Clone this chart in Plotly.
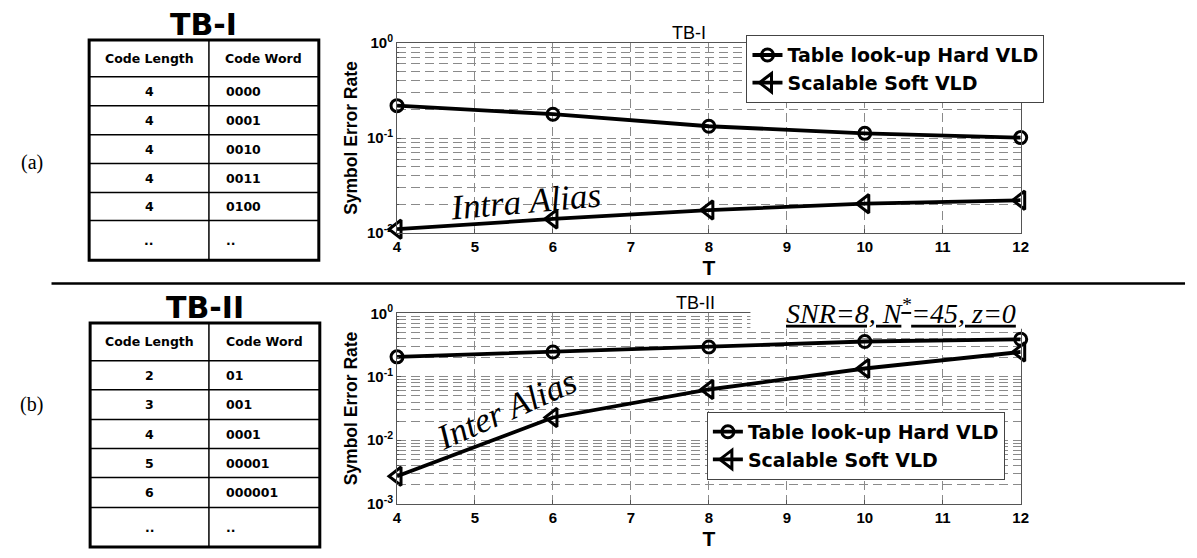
import plotly.graph_objects as go

W, H = 1197, 558

# ---------------- data ----------------
T_values = [4, 6, 8, 10, 12]
tb1_hard = [0.219, 0.178, 0.133, 0.112, 0.101]
tb1_soft = [0.0110, 0.0141, 0.0175, 0.0204, 0.0222]
tb2_hard = [0.206, 0.246, 0.295, 0.360, 0.390]
tb2_soft = [0.0027, 0.0228, 0.063, 0.135, 0.246]

series_names = ["Table look-up Hard VLD", "Scalable Soft VLD"]

table_header = ["Code Length", "Code Word"]
tb1_lengths = ["4", "4", "4", "4", "4", ".."]
tb1_words = ["0000", "0001", "0010", "0011", "0100", ".."]
tb2_lengths = ["2", "3", "4", "5", "6", ".."]
tb2_words = ["01", "001", "0001", "00001", "000001", ".."]

x_ticks = [4, 5, 6, 7, 8, 9, 10, 11, 12]
y1_ticks = [1e-2, 1e-1, 1e0]
y1_exps = ["-2", "-1", "0"]
y2_ticks = [1e-3, 1e-2, 1e-1, 1e0]
y2_exps = ["-3", "-2", "-1", "0"]


def px(x):
    return x / W


def py(y):
    return 1 - y / H


def pow_label(e):
    return "10<sup style='font-size:90%'>" + e + "</sup>"


SANS = "Liberation Sans, Arial, sans-serif"
SERIF = "Liberation Serif, Times New Roman, serif"
TBL = "DejaVu Sans, Verdana, sans-serif"

fig = go.Figure()

line_style = dict(color="black", width=3.8)
hard_marker = dict(symbol="circle-open", size=12, color="black", line=dict(width=3, color="black"))
soft_marker = dict(symbol="triangle-left-open", size=16, color="black", line=dict(width=3, color="black"))

fig.add_trace(go.Scatter(x=T_values, y=tb1_hard, mode="lines+markers", name=series_names[0],
                         line=line_style, marker=hard_marker, xaxis="x", yaxis="y",
                         legend="legend", cliponaxis=False))
fig.add_trace(go.Scatter(x=T_values, y=tb1_soft, mode="lines+markers", name=series_names[1],
                         line=line_style, marker=soft_marker, xaxis="x", yaxis="y",
                         legend="legend", cliponaxis=False))
fig.add_trace(go.Scatter(x=T_values, y=tb2_hard, mode="lines+markers", name=series_names[0],
                         line=line_style, marker=hard_marker, xaxis="x2", yaxis="y2",
                         legend="legend2", cliponaxis=False))
fig.add_trace(go.Scatter(x=T_values, y=tb2_soft, mode="lines+markers", name=series_names[1],
                         line=line_style, marker=soft_marker, xaxis="x2", yaxis="y2",
                         legend="legend2", cliponaxis=False))

grid_color = "#8a8a8a"
grid_dash = "9px,5px"
tickfont = dict(family=SANS, size=15, color="black", weight="bold")


def minor_vals(lo, hi):
    vals = []
    for e in range(lo, hi):
        for m in range(2, 10):
            vals.append(m * 10 ** e)
    return vals


xaxis_common = dict(range=[4, 12], tickvals=x_ticks, showgrid=True, gridcolor=grid_color,
                    griddash=grid_dash, gridwidth=1, showline=True, linecolor="#555",
                    linewidth=1, mirror=True, ticks="inside", ticklen=4, tickcolor="#555",
                    tickfont=tickfont, zeroline=False,
                    title=dict(text="T", font=dict(family=SANS, size=21, color="black", weight="bold"),
                               standoff=6))

yaxis_common = dict(type="log", showgrid=True, gridcolor=grid_color, griddash=grid_dash,
                    gridwidth=1, showline=True, linecolor="#555", linewidth=1, mirror=True,
                    ticks="inside", ticklen=4, tickcolor="#555", tickfont=tickfont,
                    zeroline=False,
                    title=dict(text="Symbol Error Rate",
                               font=dict(family=SANS, size=17.5, color="black", weight="bold"),
                               standoff=4))

legend_font = dict(family=TBL, size=19, color="black", weight="bold")

fig.update_layout(
    width=W, height=H, margin=dict(l=0, r=0, t=0, b=0),
    paper_bgcolor="white", plot_bgcolor="white",
    xaxis=dict(domain=[px(397), px(1027)], anchor="y", **xaxis_common),
    yaxis=dict(domain=[py(230), py(33)], anchor="x", range=[-2, 0], tickvals=y1_ticks,
               ticktext=[pow_label(e) for e in y1_exps],
               minor=dict(tickvals=minor_vals(-2, 0), showgrid=True, gridcolor=grid_color,
                          griddash=grid_dash, ticks="inside", ticklen=2, tickcolor="#555"),
               **yaxis_common),
    xaxis2=dict(domain=[px(397), px(1027)], anchor="y2", **xaxis_common),
    yaxis2=dict(domain=[py(510), py(313)], anchor="x2", range=[-3, 0], tickvals=y2_ticks,
                ticktext=[pow_label(e) for e in y2_exps],
                minor=dict(tickvals=minor_vals(-3, 0), showgrid=True, gridcolor=grid_color,
                           griddash=grid_dash, ticks="inside", ticklen=2, tickcolor="#555"),
                **yaxis_common),
    legend=dict(x=px(750), y=py(25), xanchor="left", yanchor="top", bgcolor="white",
                bordercolor="#444", borderwidth=1, font=legend_font,
                itemwidth=30, tracegroupgap=0),
    legend2=dict(x=px(710), y=py(415), xanchor="left", yanchor="top", bgcolor="white",
                 bordercolor="#444", borderwidth=1, font=legend_font,
                 itemwidth=30, tracegroupgap=0),
    showlegend=True,
)

shapes = []
annotations = []

# separator line
shapes.append(dict(type="line", xref="paper", yref="paper", x0=px(48), x1=px(1193),
                   y0=py(282), y1=py(282), line=dict(color="black", width=2.5)))

# white cover behind the SNR label (bottom chart)
shapes.append(dict(type="rect", xref="paper", yref="paper", x0=px(754), x1=px(1032),
                   y0=py(329), y1=py(298), fillcolor="white", line=dict(width=0), layer="above"))


def draw_table(top, bottom, left, right, col, rows, title, title_y, label, label_y, lengths, words):
    shapes.append(dict(type="rect", xref="paper", yref="paper", x0=px(left), x1=px(right),
                       y0=py(bottom), y1=py(top), line=dict(color="black", width=3)))
    shapes.append(dict(type="line", xref="paper", yref="paper", x0=px(col), x1=px(col),
                       y0=py(bottom), y1=py(top), line=dict(color="black", width=1.5)))
    for r in rows:
        shapes.append(dict(type="line", xref="paper", yref="paper", x0=px(left), x1=px(right),
                           y0=py(r), y1=py(r), line=dict(color="black", width=1.5)))
    edges = [top] + rows + [bottom]
    cfont = dict(family=TBL, size=12.5, color="black", weight="bold")
    c1 = (left + col) / 2
    c2 = (col + right) / 2
    ymid = (edges[0] + edges[1]) / 2
    annotations.append(dict(x=px(c1), y=py(ymid), xref="paper", yref="paper", text=table_header[0],
                            showarrow=False, font=cfont, xanchor="center", yanchor="middle"))
    annotations.append(dict(x=px(c2), y=py(ymid), xref="paper", yref="paper", text=table_header[1],
                            showarrow=False, font=cfont, xanchor="center", yanchor="middle"))
    for i, (ln, wd) in enumerate(zip(lengths, words)):
        ymid = (edges[i + 1] + edges[i + 2]) / 2
        annotations.append(dict(x=px(c1), y=py(ymid), xref="paper", yref="paper", text=ln,
                                showarrow=False, font=cfont, xanchor="center", yanchor="middle"))
        annotations.append(dict(x=px(col + 15), y=py(ymid), xref="paper", yref="paper", text=wd,
                                showarrow=False, font=cfont, xanchor="left", yanchor="middle"))
    annotations.append(dict(x=px((left + right) / 2), y=py(title_y), xref="paper", yref="paper",
                            text=title, showarrow=False,
                            font=dict(family=TBL, size=30, color="black", weight="bold"),
                            xanchor="center", yanchor="middle"))
    annotations.append(dict(x=px(28), y=py(label_y), xref="paper", yref="paper", text=label,
                            showarrow=False, font=dict(family=SERIF, size=20, color="black"),
                            xanchor="center", yanchor="middle"))


draw_table(30, 258, 86, 318, 207, [68, 98, 128, 158, 188, 217], "TB-I", 14, "(a)", 157,
           tb1_lengths, tb1_words)
draw_table(323, 555, 87, 319, 207, [362, 392, 423, 453, 483, 514], "TB-II", 307, "(b)", 407,
           tb2_lengths, tb2_words)

# chart titles
annotations.append(dict(x=px(692), y=py(23), xref="paper", yref="paper", text="TB-I",
                        showarrow=False, font=dict(family=SANS, size=18, color="black"),
                        xanchor="center", yanchor="middle"))
annotations.append(dict(x=px(698), y=py(302), xref="paper", yref="paper", text="TB-II",
                        showarrow=False, font=dict(family=SANS, size=18, color="black"),
                        xanchor="center", yanchor="middle"))

# in-plot labels
annotations.append(dict(x=px(527), y=py(197), xref="paper", yref="paper", text="<i>Intra Alias</i>",
                        showarrow=False, font=dict(family=SERIF, size=35, color="black"),
                        textangle=-5, xanchor="center", yanchor="middle"))
annotations.append(dict(x=px(508), y=py(413), xref="paper", yref="paper", text="<i>Inter Alias</i>",
                        showarrow=False, font=dict(family=SERIF, size=35, color="black"),
                        textangle=-24, xanchor="center", yanchor="middle"))
annotations.append(dict(x=px(906), y=py(311), xref="paper", yref="paper",
                        text="<i><u>SNR=8, N<sup>*</sup>=45, z=0</u></i>",
                        showarrow=False, font=dict(family=SERIF, size=28, color="black"),
                        xanchor="center", yanchor="middle"))

fig.update_layout(shapes=shapes, annotations=annotations)

fig.write_html("out.html")
